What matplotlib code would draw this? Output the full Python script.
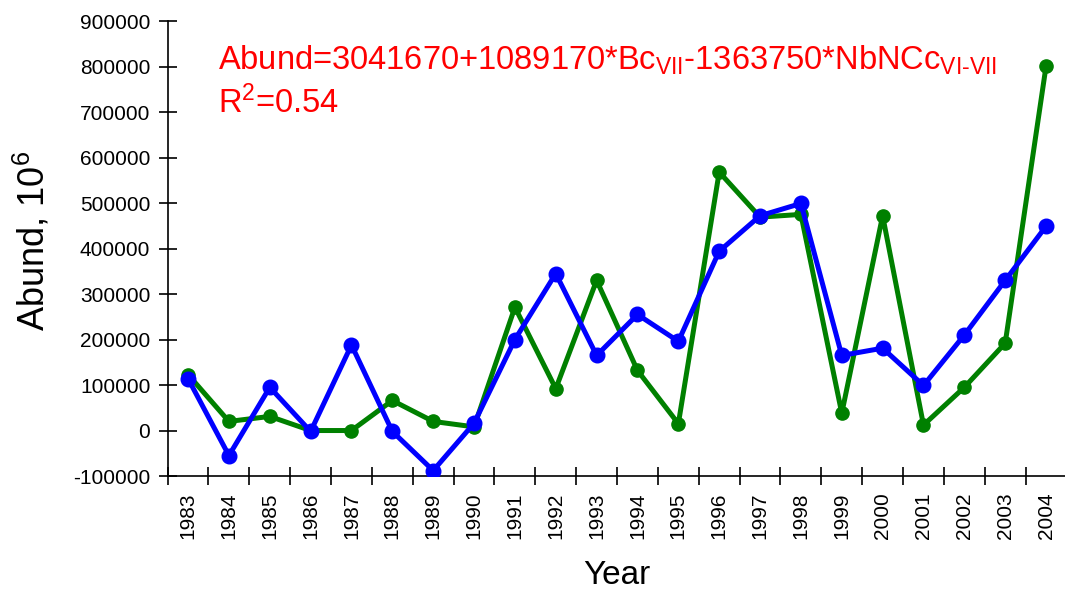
import matplotlib
matplotlib.use("Agg")
import matplotlib.pyplot as plt
import numpy as np

plt.rcParams['font.family'] = ['Liberation Sans', 'DejaVu Sans']
plt.rcParams['mathtext.fontset'] = 'custom'
plt.rcParams['mathtext.rm'] = 'Liberation Sans'
plt.rcParams['mathtext.it'] = 'Liberation Sans:italic'
plt.rcParams['mathtext.bf'] = 'Liberation Sans:bold'

# datos
years = [str(y) for y in range(1983, 2005)]
observed = [123000, 20000, 31000, 0, 0, 66000, 20000, 8000, 271000, 92000, 330000,
            132000, 15000, 568000, 469000, 475000, 38000, 472000, 12000, 95000, 192000, 801000]
modelled = [114000, -55000, 95000, -2000, 188000, -2000, -88000, 16000, 200000, 345000, 165000,
            255000, 196000, 394000, 472000, 499000, 165000, 181000, 99000, 210000, 330000, 449000]
y_ticks = list(range(-100000, 900001, 100000))

fig = plt.figure(figsize=(10.65, 5.92), dpi=100)
ax = fig.add_axes([0.1574, 0.1959, 0.8440, 0.7686])

x = np.arange(len(years))
ax.plot(x, observed, '-o', color='#008000', lw=3.6, ms=9.5, zorder=3)
ax.plot(x, modelled, '-o', color='#0000FF', lw=3.6, ms=10.5, zorder=4)

ax.set_xlim(-0.5, len(years) - 0.5)
ax.set_ylim(y_ticks[0], y_ticks[-1])

# ticks en los bordes de las categorias, etiquetas en el centro
ax.set_xticks(np.arange(len(years) + 1) - 0.5)
ax.set_xticklabels([])
ax.set_xticks(x, minor=True)
ax.set_xticklabels(years, minor=True, rotation=90, fontsize=15)
ax.tick_params(axis='x', which='major', direction='inout', length=13, width=1.2)
ax.tick_params(axis='x', which='minor', length=0, pad=12)

ax.set_yticks(y_ticks)
ax.set_yticklabels([str(v) for v in y_ticks], fontsize=15)
ax.tick_params(axis='y', direction='inout', length=13, width=1.2, pad=6)

for s in ['top', 'right']:
    ax.spines[s].set_visible(False)
for s in ['left', 'bottom']:
    ax.spines[s].set_linewidth(1.2)

ax.set_xlabel('Year', fontsize=24, labelpad=15)
ax.set_ylabel(r'Abund, 10$^{\mathregular{6}}$', fontsize=26)
ax.yaxis.set_label_coords(-0.1286, 0.516)

fig.text(218 / 1065, 1 - 70 / 592,
         r'Abund=3041670+1089170*Bc$_{\text{VII}}$-1363750*NbNCc$_{\text{VI-VII}}$',
         color='#FF0000', fontsize=23.5, ha='left', va='baseline')
fig.text(218 / 1065, 1 - 113 / 592, r'R$^{\mathregular{2}}$=0.54',
         color='#FF0000', fontsize=23.5, ha='left', va='baseline')

fig.savefig('out.png', dpi=100)
